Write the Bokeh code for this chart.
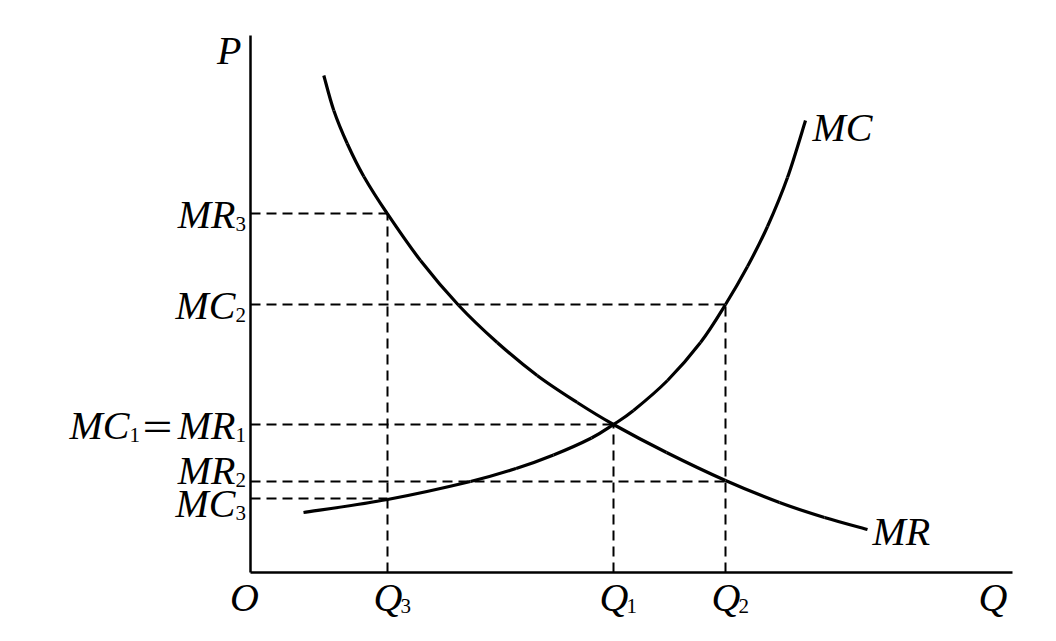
from bokeh.plotting import figure
from bokeh.models import Range1d
from bokeh.core.properties import value
from bokeh.embed import file_html
from bokeh.resources import INLINE

# ---- data (Q, P units) ----
mr_q = [0.733, 0.833, 0.967, 1.133, 1.367, 1.70, 2.083, 2.467, 2.867, 3.267, 3.63, 4.16, 4.75, 5.29, 5.74, 6.17]
mr_p = [4.97, 4.62, 4.29, 3.96, 3.59, 3.12, 2.67, 2.30, 1.97, 1.70, 1.48, 1.20, 0.92, 0.70, 0.55, 0.43]

mc_q = [0.53, 1.37, 2.20, 2.656, 3.03, 3.41, 3.63, 3.83, 4.17, 4.50, 4.75, 4.97, 5.17, 5.37, 5.55]
mc_p = [0.60, 0.73, 0.91, 1.04, 1.175, 1.345, 1.48, 1.62, 1.92, 2.30, 2.68, 3.06, 3.46, 3.95, 4.52]

q_axis_max = 7.62
p_axis_max = 5.37

# levels
Q3, Q1, Q2 = 1.37, 3.63, 4.75
MR3, MC2, MC1, MR2, MC3 = 3.59, 2.68, 1.48, 0.91, 0.74

h_y = [MR3, MC2, MC1, MR2, MC3]
h_x = [Q3, Q2, Q1, Q2, Q3]
v_x = [Q3, Q2, Q1]
v_y = [MR3, MC2, MC1]

FONT = value("Liberation Serif")
MAIN = "40px"
SUB = "21px"

p = figure(width=1040, height=625, output_backend="svg", toolbar_location=None,
           x_range=Range1d(-2.5, 7.9), y_range=Range1d(-0.53, 5.72),
           min_border=0)
p.axis.visible = False
p.grid.visible = False
p.outline_line_color = None
p.background_fill_color = "white"

# axes
p.segment(x0=[0, 0], y0=[0, 0], x1=[q_axis_max, 0], y1=[0, p_axis_max],
          line_color="black", line_width=2.5)

# dashed guides
p.segment(x0=[0] * len(h_y), y0=h_y, x1=h_x, y1=h_y,
          line_color="black", line_width=2, line_dash="10 6")
p.segment(x0=v_x, y0=[0] * len(v_x), x1=v_x, y1=v_y,
          line_color="black", line_width=2, line_dash="10 6")


def smooth(xs, ys):
    """Catmull-Rom through the read points, drawn as bezier pieces."""
    n = len(xs)
    px = [xs[0]] + list(xs) + [xs[-1]]
    py = [ys[0]] + list(ys) + [ys[-1]]
    d = dict(x0=[], y0=[], x1=[], y1=[], cx0=[], cy0=[], cx1=[], cy1=[])
    for i in range(1, n):
        d["x0"].append(px[i]); d["y0"].append(py[i])
        d["x1"].append(px[i + 1]); d["y1"].append(py[i + 1])
        d["cx0"].append(px[i] + (px[i + 1] - px[i - 1]) / 6)
        d["cy0"].append(py[i] + (py[i + 1] - py[i - 1]) / 6)
        d["cx1"].append(px[i + 1] - (px[i + 2] - px[i]) / 6)
        d["cy1"].append(py[i + 1] - (py[i + 2] - py[i]) / 6)
    p.bezier(line_color="black", line_width=3.2, **d)


smooth(mr_q, mr_p)
smooth(mc_q, mc_p)


def txt(x, y, t, size=MAIN, italic=True, align="left", xo=0, yo=0, baseline="middle", font=FONT):
    p.text(x=[x], y=[y], text=[t], text_font=font, text_font_size=size,
           text_font_style="italic" if italic else "normal",
           text_align=align, text_baseline=baseline, x_offset=xo, y_offset=yo,
           text_color="black")


# y-axis labels
txt(0, p_axis_max, "P", align="right", xo=-9, yo=15)
for lab, sub, yv in [("MR", "3", MR3), ("MC", "2", MC2), ("MR", "2", MR2), ("MC", "3", MC3)]:
    off = {MR2: -12, MC3: 4}.get(yv, 0)
    txt(0, yv, lab, align="right", xo=-15, yo=off + 1)
    txt(0, yv, sub, size=SUB, italic=False, align="left", xo=-15, yo=off + 10)
# MC1 = MR1
txt(0, MC1, "MR", align="right", xo=-15, yo=1)
txt(0, MC1, "1", size=SUB, italic=False, align="left", xo=-15, yo=10)
txt(0, MC1, "＝", size="34px", italic=False, align="center", xo=-93, yo=1,
    font=value("Noto Sans CJK SC"))
txt(0, MC1, "MC", align="right", xo=-121, yo=1)
txt(0, MC1, "1", size=SUB, italic=False, align="left", xo=-121, yo=10)

# x-axis labels
txt(0, 0, "O", align="center", xo=-6, yo=25)
for qv, sub in [(Q3, "3"), (Q1, "1"), (Q2, "2")]:
    txt(qv, 0, "Q", align="left", xo=-14, yo=25)
    txt(qv, 0, sub, size=SUB, italic=False, align="left", xo=13, yo=33)
txt(q_axis_max, 0, "Q", align="right", xo=-5, yo=25)

# curve labels
txt(mc_q[-1], mc_p[-1], "MC", align="left", xo=7, yo=7)
txt(mr_q[-1], mr_p[-1], "MR", align="left", xo=5, yo=2)

open("out.html", "w").write(file_html(p, INLINE))
